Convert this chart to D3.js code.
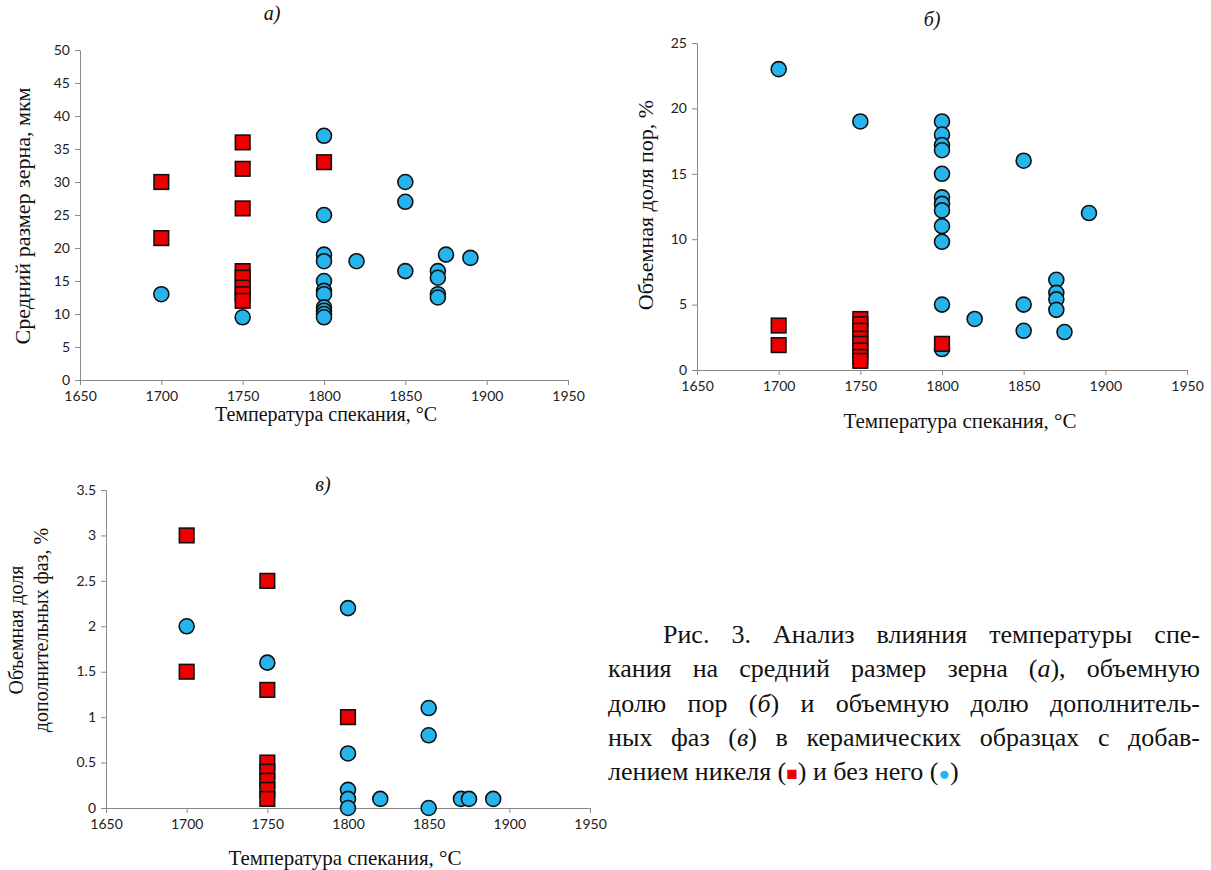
<!DOCTYPE html>
<html>
<head>
<meta charset="utf-8">
<style>
  body { margin: 0; background: #fff; }
  .tick text { font-family: Lato, "Open Sans", sans-serif; font-size: 14px; fill: #222; }
  .domain, .tick line { stroke: #8a8a8a; }
  .serif { font-family: "Liberation Serif", "DejaVu Serif", serif; fill: #111; }
</style>
</head>
<body>
<script src="https://d3js.org/d3.v7.min.js"></script>
<script>
var width = 1211, height = 870;

// temperatures (°C)
var tempTicks = [1650, 1700, 1750, 1800, 1850, 1900, 1950];

// a) grain size, мкм
var grainNiT = [1700, 1700, 1750, 1750, 1750, 1750, 1750, 1750, 1750, 1750, 1800];
var grainNiV = [30, 21.5, 36, 32, 26, 16.5, 15.5, 14, 13, 12, 33];
var grainT = [1700, 1750, 1800, 1800, 1800, 1800, 1800, 1800, 1800, 1800, 1800, 1800, 1800, 1820, 1850, 1850, 1850, 1870, 1870, 1870, 1870, 1875, 1890];
var grainV = [13, 9.5, 37, 25, 19, 18, 15, 13.5, 13, 11, 10.5, 10, 9.5, 18, 30, 27, 16.5, 16.5, 15.5, 13, 12.5, 19, 18.5];

// б) pore fraction, %
var poreNiT = [1700, 1700, 1750, 1750, 1750, 1750, 1750, 1750, 1750, 1750, 1800];
var poreNiV = [3.4, 1.9, 3.9, 3.5, 3.0, 2.4, 2.0, 1.5, 1.0, 0.7, 2.0];
var poreT = [1700, 1750, 1800, 1800, 1800, 1800, 1800, 1800, 1800, 1800, 1800, 1800, 1800, 1800, 1820, 1850, 1850, 1850, 1870, 1870, 1870, 1870, 1875, 1890];
var poreV = [23, 19, 19, 18, 17.2, 16.8, 15, 13.2, 12.7, 12.2, 11, 9.8, 5, 1.6, 3.9, 16, 5, 3, 6.9, 5.9, 5.4, 4.6, 2.9, 12];

// в) additional phases, %
var phaseNiT = [1700, 1700, 1750, 1750, 1750, 1750, 1750, 1750, 1750, 1800];
var phaseNiV = [3, 1.5, 2.5, 1.3, 0.5, 0.4, 0.3, 0.2, 0.1, 1.0];
var phaseT = [1700, 1750, 1800, 1800, 1800, 1800, 1800, 1820, 1850, 1850, 1850, 1870, 1875, 1890];
var phaseV = [2, 1.6, 2.2, 0.6, 0.2, 0.1, 0, 0.1, 1.1, 0.8, 0, 0.1, 0.1, 0.1];

var svg = d3.select("body").append("svg")
    .attr("width", width)
    .attr("height", height);

function panel(opt) {
  var x = d3.scaleLinear().domain([1650, 1950]).range([opt.left, opt.right]);
  var y = d3.scaleLinear().domain([0, opt.yMax]).range([opt.bottom, opt.top]);
  var g = svg.append("g");

  g.append("g")
      .attr("transform", "translate(0," + opt.bottom + ")")
      .call(d3.axisBottom(x).tickValues(tempTicks).tickSize(5).tickPadding(6).tickSizeOuter(0).tickFormat(function(d){ return d; }));
  g.append("g")
      .attr("transform", "translate(" + opt.left + ",0)")
      .call(d3.axisLeft(y).tickValues(opt.yTicks).tickSize(5).tickSizeOuter(0).tickFormat(function(d){ return String(d); }))
      .call(function(a){ a.selectAll("text").attr("x", -10).attr("dy", "0.3em"); });

  // circles (without Ni) first, squares (with Ni) on top
  g.append("g").selectAll("circle")
    .data(d3.zip(opt.cT, opt.cV))
    .enter().append("circle")
      .attr("cx", function(d){ return x(d[0]); })
      .attr("cy", function(d){ return y(d[1]); })
      .attr("r", 7.5)
      .attr("fill", "#27b4ec")
      .attr("stroke", "#111")
      .attr("stroke-width", 1.6);
  g.append("g").selectAll("rect")
    .data(d3.zip(opt.sT, opt.sV))
    .enter().append("rect")
      .attr("x", function(d){ return x(d[0]) - 7.3; })
      .attr("y", function(d){ return y(d[1]) - 7.3; })
      .attr("width", 14.6)
      .attr("height", 14.6)
      .attr("fill", "#ee0000")
      .attr("stroke", "#111")
      .attr("stroke-width", 1.6);

  g.append("text").attr("class", "serif")
      .attr("x", opt.title[0]).attr("y", opt.title[1])
      .attr("text-anchor", "middle").attr("dy", "0.35em")
      .style("font-style", "italic").style("font-size", "20px")
      .text(opt.letter);

  g.append("text").attr("class", "serif")
      .attr("x", opt.xLab[0]).attr("y", opt.xLab[1])
      .attr("text-anchor", "middle").attr("dy", "0.35em")
      .style("font-size", opt.xLabSize + "px")
      .text("Температура спекания, °C");

  opt.yLab.forEach(function(l) {
    g.append("text").attr("class", "serif")
        .attr("transform", "translate(" + l[0] + "," + l[1] + ") rotate(-90)")
        .attr("text-anchor", "middle").attr("dy", "0.35em")
        .style("font-size", opt.yLabSize + "px")
        .text(l[2]);
  });
}

panel({
  left: 80, right: 568, top: 50, bottom: 380, yMax: 50,
  yTicks: [0, 5, 10, 15, 20, 25, 30, 35, 40, 45, 50],
  sT: grainNiT, sV: grainNiV, cT: grainT, cV: grainV,
  letter: "а)", title: [272, 13],
  xLab: [326, 414], xLabSize: 20,
  yLab: [[22, 216, "Средний размер зерна, мкм"]], yLabSize: 22
});

panel({
  left: 697, right: 1187, top: 43, bottom: 370, yMax: 25,
  yTicks: [0, 5, 10, 15, 20, 25],
  sT: poreNiT, sV: poreNiV, cT: poreT, cV: poreV,
  letter: "б)", title: [932, 19],
  xLab: [960, 421], xLabSize: 21,
  yLab: [[645, 205, "Объемная доля пор, %"]], yLabSize: 22
});

panel({
  left: 106, right: 590, top: 490, bottom: 808, yMax: 3.5,
  yTicks: [0, 0.5, 1, 1.5, 2, 2.5, 3, 3.5],
  sT: phaseNiT, sV: phaseNiV, cT: phaseT, cV: phaseV,
  letter: "в)", title: [323, 484],
  xLab: [345, 858], xLabSize: 21,
  yLab: [[16, 630, "Объемная доля"], [41, 630, "дополнительных фаз, %"]], yLabSize: 20
});

// caption, justified by word spacing
var caption = [
  { x: 663, w: 537, parts: [["Рис. 3. Анализ влияния температуры спе-"]] },
  { x: 608, w: 592, parts: [["кания на средний размер зерна ("], ["а", "i"], ["), объемную"]] },
  { x: 608, w: 592, parts: [["долю пор ("], ["б", "i"], [") и объемную долю дополнитель-"]] },
  { x: 608, w: 592, parts: [["ных фаз ("], ["в", "i"], [") в керамических образцах с добав-"]] },
  { x: 608, w: 0, parts: [["лением никеля ("], ["■", "r"], [") и без него ("], ["●", "b"], [")"]] }
];
caption.forEach(function(line, i) {
  var t = svg.append("text").attr("class", "serif")
      .attr("x", line.x).attr("y", 643 + i * 34.3)
      .style("font-size", "26px");
  var full = "";
  line.parts.forEach(function(p) {
    full += p[0];
    var s = t.append("tspan").text(p[0]);
    if (p[1] === "i") s.style("font-style", "italic");
    if (p[1] === "r") s.style("fill", "#ee0000").style("font-size", "19px");
    if (p[1] === "b") s.style("fill", "#27b4ec").style("font-size", "19px");
  });
  if (line.w) {
    var gaps = full.split(" ").length - 1;
    var extra = (line.w - t.node().getComputedTextLength()) / gaps;
    t.style("word-spacing", extra + "px");
  }
});
</script>
</body>
</html>
